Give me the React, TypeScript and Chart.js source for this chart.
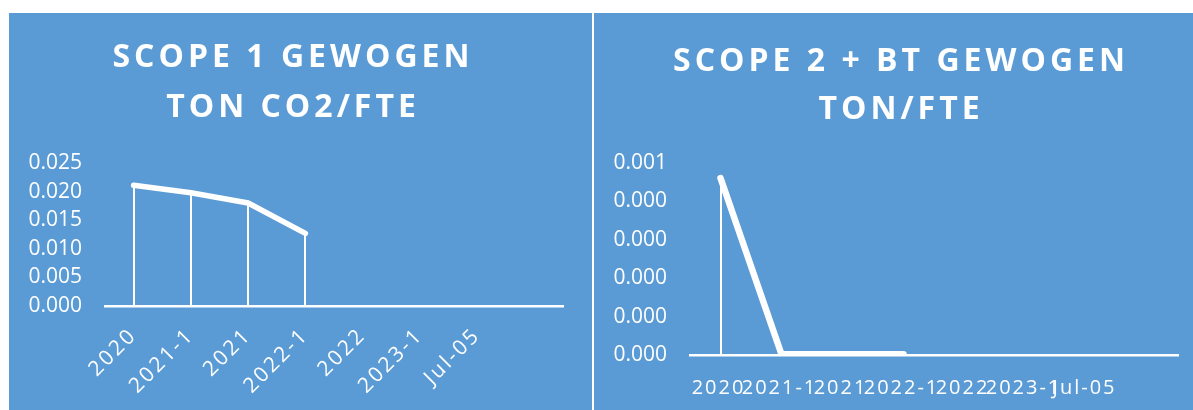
import React, { useEffect, useRef } from "react";
import { Chart, registerables } from "chart.js";

Chart.register(...registerables);

// ---- data ----
const categories = ["2020", "2021-1", "2021", "2022-1", "2022", "2023-1", "Jul-05", ""];
const scope1Values: (number | null)[] = [0.0211, 0.0198, 0.018, 0.0127, null, null, null, null];
const scope2Values: (number | null)[] = [0.000461, 0.000002, 0.000002, 0.000002, null, null, null, null];
const scope1YTicks = ["0.000", "0.005", "0.010", "0.015", "0.020", "0.025"];
const scope2YTicks = ["0.000", "0.000", "0.000", "0.000", "0.000", "0.001"];
const scope1Title = ["SCOPE 1 GEWOGEN", "TON CO2/FTE"];
const scope2Title = ["SCOPE 2 + BT GEWOGEN", "TON/FTE"];

const BG = "#5B9BD5";
const FONT = '"Open Sans", "Liberation Sans", sans-serif';

type PanelCfg = {
  left: number;
  width: number;
  values: (number | null)[];
  yMax: number;
  yStep: number;
  yTicks: string[];
  title: string[];
  titleX: number;
  titleY: number[];
  yWidth: number;
  padRight: number;
  xHeight: number;
  rotated: boolean;
  lineWidth: number;
};

const panels: PanelCfg[] = [
  {
    left: 9,
    width: 583,
    values: scope1Values,
    yMax: 0.025,
    yStep: 0.005,
    yTicks: scope1YTicks,
    title: scope1Title,
    titleX: 282,
    titleY: [54, 104],
    yWidth: 96,
    padRight: 29,
    xHeight: 104,
    rotated: true,
    lineWidth: 5.5,
  },
  {
    left: 594,
    width: 599,
    values: scope2Values,
    yMax: 0.0005,
    yStep: 0.0001,
    yTicks: scope2YTicks,
    title: scope2Title,
    titleX: 305,
    titleY: [58, 106],
    yWidth: 96,
    padRight: 15,
    xHeight: 55,
    rotated: false,
    lineWidth: 6.5,
  },
];

const PANEL_TOP = 13;
const PANEL_H = 397;
const TITLE_SPACING = 4;

function makePlugins(p: PanelCfg) {
  const dropLines = {
    id: "dropLines",
    beforeDatasetsDraw(chart: any) {
      const meta = chart.getDatasetMeta(0);
      const ctx = chart.ctx;
      const base = chart.scales.y.getPixelForValue(0);
      ctx.save();
      ctx.strokeStyle = "#fff";
      ctx.lineWidth = 2;
      meta.data.forEach((pt: any, i: number) => {
        const v = chart.data.datasets[0].data[i];
        if (v == null) return;
        ctx.beginPath();
        ctx.moveTo(Math.round(pt.x), pt.y);
        ctx.lineTo(Math.round(pt.x), base);
        ctx.stroke();
      });
      ctx.restore();
    },
  };
  const titlePlugin = {
    id: "panelTitle",
    afterDraw(chart: any) {
      const ctx = chart.ctx;
      ctx.save();
      ctx.fillStyle = "#fff";
      ctx.font = `bold 32px ${FONT}`;
      (ctx as any).letterSpacing = TITLE_SPACING + "px";
      ctx.textAlign = "center";
      ctx.textBaseline = "alphabetic";
      p.title.forEach((line, i) => ctx.fillText(line, p.titleX + TITLE_SPACING / 2, p.titleY[i]));
      ctx.restore();
    },
  };
  const xLabels = {
    id: "xLabels",
    afterDraw(chart: any) {
      const ctx = chart.ctx;
      const xs = chart.scales.x;
      const axisY = chart.chartArea.bottom;
      ctx.save();
      ctx.fillStyle = "#fff";
      if (p.rotated) {
        ctx.font = `21px ${FONT}`;
        (ctx as any).letterSpacing = "2.5px";
      } else {
        ctx.font = `20px ${FONT}`;
        (ctx as any).letterSpacing = "2px";
      }
      categories.forEach((lab, i) => {
        if (!lab) return;
        const x = xs.getPixelForTick(i);
        if (p.rotated) {
          ctx.save();
          ctx.translate(x, axisY + 26);
          ctx.rotate(-Math.PI / 4);
          ctx.textAlign = "right";
          ctx.textBaseline = "middle";
          ctx.fillText(lab, 0, 0);
          ctx.restore();
        } else {
          ctx.textAlign = "center";
          ctx.textBaseline = "middle";
          ctx.fillText(lab, x - 2, axisY + 33);
        }
      });
      ctx.restore();
    },
  };
  return [dropLines, titlePlugin, xLabels];
}

function Panel({ p }: { p: PanelCfg }) {
  const ref = useRef<HTMLCanvasElement | null>(null);
  useEffect(() => {
    if (!ref.current) return;
    const chart = new Chart(ref.current, {
      type: "line",
      data: {
        labels: categories,
        datasets: [
          {
            data: p.values as any,
            borderColor: "#fff",
            backgroundColor: "#fff",
            borderWidth: p.lineWidth,
            borderCapStyle: "round",
            borderJoinStyle: "round",
            pointRadius: 0,
            spanGaps: false,
            tension: 0,
          },
        ],
      },
      options: {
        responsive: false,
        animation: false,
        devicePixelRatio: 1,
        layout: { padding: { top: 150, right: p.padRight, bottom: 0, left: 0 } },
        plugins: {
          legend: { display: false },
          title: { display: false },
          tooltip: { enabled: false },
        },
        scales: {
          x: {
            type: "category",
            offset: true,
            grid: { display: false, drawTicks: false },
            border: { display: true, color: "#fff", width: 2.5 },
            ticks: { display: false },
            afterFit: (s: any) => {
              s.height = p.xHeight;
            },
          },
          y: {
            min: 0,
            max: p.yMax,
            grid: { display: false, drawTicks: false },
            border: { display: false },
            ticks: {
              stepSize: p.yStep,
              color: "#fff",
              padding: 23,
              font: { family: FONT, size: 21 },
              callback: (_v: any, i: number) => p.yTicks[i],
            },
            afterFit: (s: any) => {
              s.width = p.yWidth;
            },
          },
        },
      } as any,
      plugins: makePlugins(p) as any,
    });
    return () => chart.destroy();
  }, []);
  return (
    <div
      style={{
        position: "fixed",
        left: p.left,
        top: PANEL_TOP,
        width: p.width,
        height: PANEL_H,
        background: BG,
      }}
    >
      <canvas ref={ref} width={p.width} height={PANEL_H} style={{ display: "block" }} />
    </div>
  );
}

export default function App() {
  return (
    <div>
      {panels.map((p, i) => (
        <Panel key={i} p={p} />
      ))}
    </div>
  );
}
